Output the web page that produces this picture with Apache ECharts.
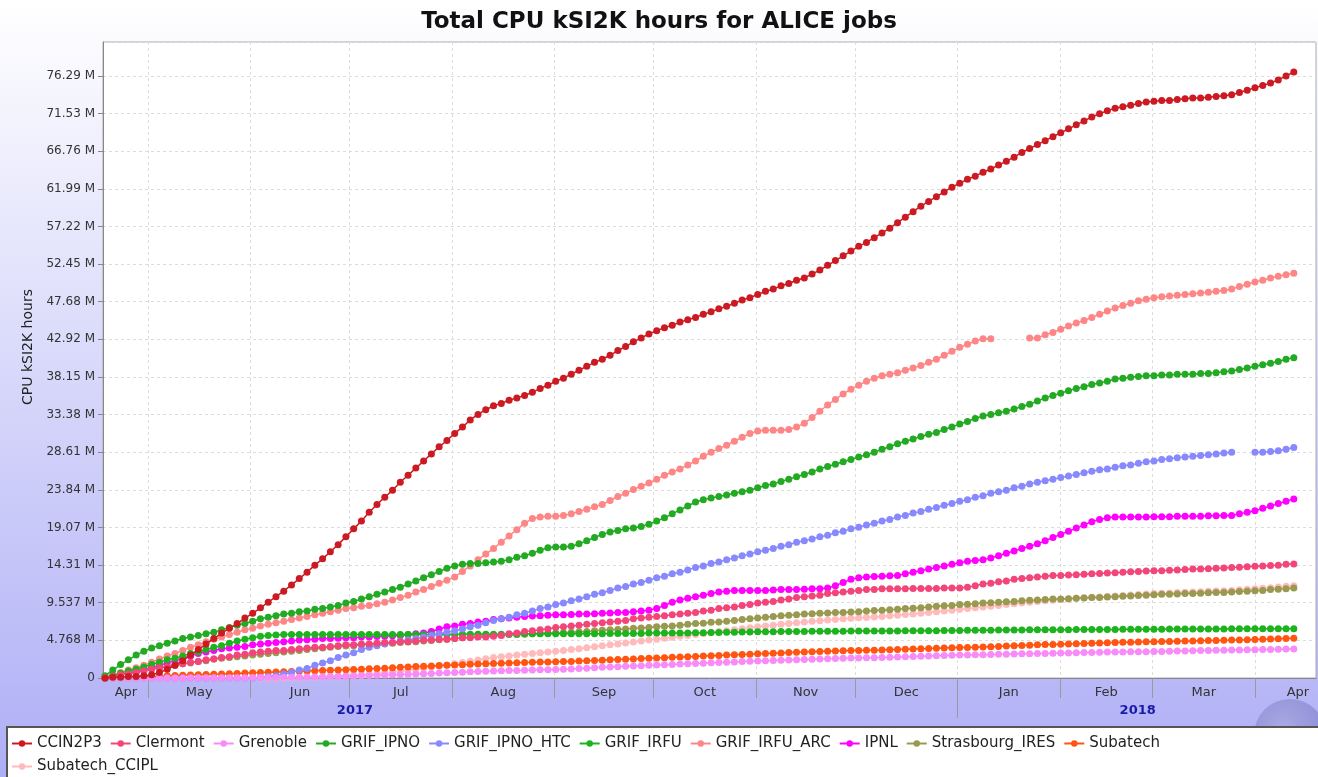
<!DOCTYPE html>
<html><head><meta charset="utf-8">
<script src="https://cdn.jsdelivr.net/npm/echarts@6/dist/echarts.min.js"></script>
<style>html,body{margin:0;padding:0;background:#fff}#c{width:1318px;height:777px}</style>
</head><body><div id="c"></div>
<script>
// ---- data (values in "M" units as labelled on the y axis) ----
const SERIES_NAMES = ['CCIN2P3','Clermont','Grenoble','GRIF_IPNO','GRIF_IPNO_HTC','GRIF_IRFU','GRIF_IRFU_ARC','IPNL','Strasbourg_IRES','Subatech','Subatech_CCIPL'];
const SERIES_COLORS = ['#cc1a22','#f2467a','#f78bf7','#22aa22','#8888ff','#1db31d','#ff8686','#ff00ff','#99994f','#ff5511','#ffbbbb'];

const CCIN2P3 = [0.0,0.1,0.1,0.2,0.2,0.3,0.4,0.7,1.1,1.6,2.2,2.9,3.6,4.3,5.0,5.7,6.3,6.9,7.6,8.2,
8.9,9.6,10.3,11.0,11.8,12.6,13.4,14.3,15.1,16.0,
16.9,17.9,18.9,19.9,21.0,22.0,22.9,23.8,24.8,25.7,
26.6,27.5,28.4,29.3,30.1,31.0,31.8,32.7,33.4,34.0,
34.5,34.8,35.2,35.5,35.8,36.2,36.7,37.1,37.6,38.0,
38.5,39.0,39.5,40.0,40.4,40.9,41.5,42.0,42.6,43.1,
43.6,44.0,44.4,44.7,45.1,45.4,45.7,46.1,46.4,46.8,
47.1,47.5,47.9,48.2,48.6,49.0,49.3,49.7,50.0,50.4,
50.7,51.2,51.7,52.3,52.9,53.5,54.1,54.7,55.2,55.8,
56.4,57.0,57.7,58.4,59.1,59.8,60.4,61.0,61.6,62.2,
62.7,63.2,63.6,64.1,64.5,65.0,65.5,66.0,66.6,67.1,
67.6,68.1,68.6,69.1,69.6,70.1,70.6,71.1,71.5,71.9,
72.2,72.4,72.6,72.8,73.0,73.1,73.2,73.2,73.3,73.4,
73.5,73.5,73.6,73.7,73.8,73.9,74.2,74.5,74.8,75.1,
75.4,75.8,76.3,76.8];

const CLERMONT = [0.0,0.2,0.4,0.5,0.7,0.9,1.1,1.3,1.4,1.6,1.8,2.0,2.1,2.3,2.4,2.6,2.7,2.9,3.0,3.2,
3.3,3.4,3.5,3.5,3.6,3.7,3.8,3.9,3.9,4.0,
4.1,4.2,4.2,4.3,4.3,4.4,4.5,4.5,4.6,4.6,
4.7,4.8,4.8,4.9,4.9,5.0,5.1,5.1,5.2,5.2,
5.3,5.4,5.6,5.7,5.9,6.0,6.1,6.2,6.4,6.5,
6.6,6.7,6.8,6.9,7.0,7.1,7.2,7.3,7.5,7.6,
7.7,7.8,7.9,8.0,8.1,8.2,8.3,8.5,8.6,8.8,
8.9,9.0,9.2,9.3,9.5,9.6,9.7,9.9,10.0,10.2,
10.3,10.4,10.5,10.7,10.8,10.9,11.0,11.1,11.2,11.2,
11.3,11.3,11.3,11.3,11.35,11.35,11.35,11.35,11.4,11.4,
11.4,11.5,11.7,11.9,12.0,12.2,12.3,12.5,12.6,12.7,
12.8,12.9,13.0,13.0,13.05,13.1,13.15,13.2,13.25,13.3,
13.35,13.4,13.45,13.5,13.55,13.6,13.6,13.65,13.7,13.75,
13.8,13.8,13.85,13.9,13.95,14.0,14.05,14.1,14.15,14.2,
14.25,14.3,14.4,14.45];

const GRENOBLE = [0,0,0,0,0,0,0,0,0.01,0.01,0.01,0.02,0.02,0.02,0.03,0.03,0.03,0.04,0.04,0.05,
0.05,0.06,0.07,0.08,0.09,0.1,0.12,0.14,0.16,0.18,
0.2,0.23,0.26,0.29,0.32,0.35,0.38,0.41,0.44,0.47,
0.5,0.54,0.58,0.62,0.66,0.7,0.74,0.78,0.82,0.86,
0.9,0.92,0.94,0.96,0.98,1.0,1.03,1.06,1.09,1.12,
1.15,1.2,1.25,1.3,1.35,1.4,1.44,1.48,1.52,1.56,
1.6,1.64,1.68,1.72,1.76,1.8,1.84,1.88,1.92,1.96,
2.0,2.04,2.08,2.12,2.16,2.2,2.23,2.26,2.29,2.32,
2.35,2.38,2.41,2.44,2.47,2.5,2.52,2.54,2.56,2.58,
2.6,2.63,2.66,2.69,2.72,2.75,2.78,2.81,2.84,2.87,
2.9,2.92,2.94,2.96,2.98,3.0,3.02,3.04,3.06,3.08,
3.1,3.12,3.14,3.16,3.18,3.2,3.22,3.24,3.26,3.28,
3.3,3.31,3.32,3.33,3.34,3.35,3.37,3.39,3.41,3.43,
3.45,3.47,3.49,3.51,3.53,3.55,3.56,3.58,3.59,3.61,
3.62,3.64,3.66,3.68];

const GRIF_IPNO = [0.3,1.0,1.7,2.3,2.9,3.4,3.8,4.1,4.4,4.7,5.0,5.2,5.4,5.6,5.8,6.1,6.4,6.7,6.9,7.2,
7.5,7.7,7.9,8.1,8.2,8.4,8.5,8.7,8.8,9.0,
9.2,9.5,9.7,10.0,10.3,10.6,10.9,11.2,11.5,11.9,
12.3,12.7,13.1,13.5,13.9,14.2,14.4,14.5,14.5,14.6,
14.7,14.8,15.0,15.3,15.5,15.8,16.2,16.5,16.6,16.6,
16.7,17.0,17.4,17.8,18.2,18.5,18.7,18.9,19.0,19.2,
19.5,19.9,20.3,20.8,21.3,21.8,22.3,22.6,22.8,23.0,
23.2,23.4,23.6,23.8,24.1,24.4,24.6,24.9,25.2,25.5,
25.8,26.1,26.5,26.8,27.1,27.4,27.7,28.0,28.3,28.6,
29.0,29.3,29.7,30.0,30.3,30.6,30.9,31.1,31.5,31.8,
32.2,32.5,32.9,33.2,33.4,33.6,33.8,34.1,34.4,34.7,
35.1,35.5,35.8,36.1,36.4,36.7,36.9,37.2,37.4,37.6,
37.9,38.0,38.1,38.2,38.3,38.3,38.4,38.4,38.5,38.5,
38.5,38.6,38.6,38.7,38.8,38.9,39.1,39.3,39.5,39.7,
39.9,40.1,40.4,40.6];

const GRIF_IPNO_HTC = [0,0,0,0,0,0,0,0,0,0,0,0,0,0,0,0,0,0,0,0,
0.1,0.2,0.3,0.5,0.7,1.0,1.2,1.6,1.9,2.2,
2.6,2.9,3.2,3.6,3.9,4.1,4.3,4.5,4.7,4.8,
5.0,5.2,5.4,5.6,5.8,6.0,6.2,6.5,6.7,7.0,
7.3,7.5,7.7,8.0,8.2,8.5,8.8,9.0,9.3,9.5,
9.8,10.0,10.3,10.6,10.8,11.1,11.4,11.6,11.9,12.1,
12.4,12.7,12.9,13.2,13.4,13.7,14.0,14.2,14.5,14.7,
15.0,15.2,15.5,15.7,16.0,16.2,16.4,16.7,16.9,17.2,
17.4,17.6,17.9,18.1,18.4,18.6,18.9,19.1,19.4,19.6,
19.9,20.1,20.4,20.6,20.9,21.1,21.4,21.6,21.9,22.1,
22.4,22.6,22.9,23.1,23.4,23.6,23.8,24.1,24.3,24.6,
24.8,25.0,25.2,25.4,25.6,25.8,26.0,26.2,26.4,26.5,
26.7,26.9,27.0,27.2,27.4,27.5,27.7,27.8,27.9,28.0,
28.1,28.2,28.3,28.4,28.5,28.6,null,null,28.6,28.6,
28.7,28.8,29.0,29.2];

const GRIF_IRFU = [0.0,0.3,0.6,0.9,1.1,1.4,1.7,2.0,2.3,2.5,2.8,3.1,3.3,3.6,3.9,4.1,4.4,4.7,4.9,5.1,
5.3,5.4,5.45,5.5,5.5,5.5,5.5,5.5,5.5,5.5,
5.5,5.5,5.5,5.5,5.5,5.5,5.5,5.5,5.5,5.5,
5.5,5.5,5.5,5.5,5.5,5.5,5.55,5.55,5.55,5.55,
5.55,5.55,5.55,5.55,5.6,5.6,5.6,5.6,5.6,5.6,
5.6,5.6,5.6,5.6,5.6,5.65,5.65,5.65,5.65,5.65,
5.7,5.7,5.7,5.7,5.7,5.7,5.72,5.74,5.76,5.78,
5.8,5.8,5.82,5.84,5.85,5.86,5.87,5.88,5.89,5.9,
5.9,5.91,5.92,5.93,5.94,5.94,5.95,5.95,5.96,5.96,
5.96,5.97,5.97,5.98,5.98,5.99,6.0,6.0,6.01,6.02,
6.03,6.04,6.05,6.06,6.06,6.07,6.08,6.08,6.09,6.1,
6.1,6.11,6.12,6.12,6.13,6.14,6.14,6.15,6.15,6.16,
6.16,6.17,6.17,6.18,6.18,6.19,6.19,6.2,6.2,6.2,
6.21,6.21,6.22,6.22,6.22,6.23,6.23,6.24,6.24,6.24,
6.25,6.25,6.25,6.25];

const GRIF_IRFU_ARC = [0.1,0.4,0.7,1.0,1.3,1.6,2.0,2.4,2.8,3.1,3.5,3.9,4.2,4.6,4.9,5.2,5.5,5.8,6.1,6.3,
6.6,6.8,7.0,7.2,7.4,7.6,7.8,8.0,8.2,8.4,
8.6,8.8,8.9,9.1,9.2,9.4,9.6,9.9,10.2,10.5,
10.9,11.2,11.6,12.0,12.4,12.8,13.5,14.2,15.0,15.7,
16.4,17.2,18.0,18.8,19.6,20.2,20.4,20.5,20.5,20.6,
20.8,21.1,21.4,21.7,22.0,22.5,23.0,23.4,23.9,24.3,
24.7,25.2,25.7,26.1,26.5,27.0,27.5,28.1,28.6,29.1,
29.5,30.0,30.5,31.0,31.3,31.4,31.4,31.4,31.5,31.8,
32.3,33.0,33.8,34.6,35.3,36.0,36.6,37.1,37.6,38.0,
38.3,38.5,38.7,39.0,39.3,39.6,40.0,40.4,40.9,41.4,
41.9,42.3,42.7,43.0,43.0,null,null,null,null,43.1,
43.1,43.5,43.8,44.2,44.6,45.0,45.3,45.7,46.1,46.5,
46.9,47.2,47.5,47.8,48.0,48.2,48.3,48.4,48.5,48.6,
48.7,48.8,48.9,49.0,49.1,49.3,49.6,49.9,50.2,50.4,
50.7,50.9,51.1,51.3];

const IPNL = [0.0,0.2,0.4,0.6,0.8,1.0,1.3,1.6,1.9,2.2,2.5,2.8,3.1,3.3,3.5,3.7,3.8,3.9,4.0,4.2,
4.3,4.4,4.5,4.6,4.7,4.8,4.85,4.9,5.0,5.0,
5.05,5.1,5.1,5.2,5.2,5.25,5.3,5.35,5.4,5.5,
5.6,5.7,5.9,6.2,6.5,6.6,6.8,6.9,7.1,7.2,
7.4,7.5,7.6,7.7,7.8,7.85,7.9,7.95,8.0,8.0,
8.05,8.1,8.1,8.15,8.2,8.25,8.3,8.3,8.4,8.5,
8.6,8.8,9.2,9.6,9.9,10.1,10.3,10.5,10.7,10.9,
11.0,11.1,11.1,11.1,11.1,11.1,11.15,11.2,11.2,11.2,
11.25,11.3,11.3,11.4,11.7,12.1,12.5,12.7,12.8,12.85,
12.9,12.95,13.0,13.2,13.4,13.6,13.8,14.0,14.2,14.4,
14.6,14.8,14.9,15.0,15.2,15.5,15.8,16.1,16.4,16.7,
17.0,17.4,17.8,18.2,18.6,19.0,19.4,19.8,20.1,20.3,
20.4,20.4,20.4,20.4,20.4,20.45,20.45,20.45,20.5,20.5,
20.5,20.5,20.55,20.55,20.6,20.6,20.8,21.0,21.2,21.5,
21.8,22.1,22.4,22.7];

const STRASBOURG_IRES = [0.0,0.2,0.4,0.6,0.8,1.0,1.2,1.3,1.5,1.6,1.8,1.9,2.1,2.2,2.4,2.5,2.6,2.7,2.8,2.9,
3.0,3.1,3.2,3.3,3.4,3.5,3.6,3.7,3.8,3.9,
4.0,4.05,4.1,4.2,4.25,4.3,4.35,4.4,4.5,4.55,
4.6,4.7,4.75,4.85,4.9,5.0,5.1,5.2,5.25,5.3,
5.4,5.45,5.5,5.5,5.55,5.6,5.65,5.7,5.7,5.75,
5.8,5.85,5.9,6.0,6.05,6.1,6.15,6.2,6.3,6.35,
6.4,6.5,6.55,6.6,6.7,6.8,6.9,6.95,7.05,7.1,
7.2,7.3,7.4,7.5,7.6,7.7,7.8,7.9,7.95,8.0,
8.1,8.15,8.2,8.25,8.3,8.3,8.35,8.4,8.5,8.55,
8.6,8.65,8.7,8.8,8.85,8.9,9.0,9.1,9.15,9.2,
9.3,9.35,9.4,9.5,9.55,9.6,9.65,9.7,9.8,9.85,
9.9,9.95,10.0,10.0,10.05,10.1,10.15,10.2,10.2,10.25,
10.3,10.35,10.4,10.45,10.5,10.55,10.6,10.6,10.65,10.7,
10.7,10.75,10.8,10.85,10.85,10.9,10.95,11.0,11.05,11.1,
11.2,11.25,11.3,11.4];

const SUBATECH = [0,0.03,0.06,0.09,0.12,0.15,0.19,0.23,0.27,0.31,0.35,0.38,0.41,0.44,0.47,0.5,0.54,0.58,0.62,0.66,
0.7,0.73,0.76,0.79,0.82,0.85,0.88,0.91,0.94,0.97,
1.0,1.04,1.08,1.12,1.16,1.2,1.25,1.3,1.35,1.4,
1.45,1.49,1.53,1.57,1.61,1.65,1.69,1.73,1.77,1.81,
1.85,1.88,1.91,1.94,1.97,2.0,2.02,2.04,2.06,2.08,
2.1,2.14,2.18,2.22,2.26,2.3,2.34,2.38,2.42,2.46,
2.5,2.54,2.58,2.62,2.66,2.7,2.74,2.78,2.82,2.86,
2.9,2.94,2.98,3.02,3.06,3.1,3.14,3.18,3.22,3.26,
3.3,3.33,3.36,3.39,3.42,3.45,3.47,3.49,3.51,3.53,
3.55,3.58,3.61,3.64,3.67,3.7,3.73,3.76,3.79,3.82,
3.85,3.88,3.91,3.94,3.97,4.0,4.04,4.08,4.12,4.16,
4.2,4.23,4.26,4.29,4.32,4.35,4.38,4.41,4.44,4.47,
4.5,4.52,4.54,4.56,4.58,4.6,4.62,4.64,4.66,4.68,
4.7,4.72,4.74,4.76,4.78,4.8,4.83,4.86,4.89,4.92,
4.95,4.98,5.02,5.05];

const SUBATECH_CCIPL = [0,0,0,0,0,0,0,0,0,0,0,0,0,0,0,0,0,0,0,0,
0,0,0,0.01,0.03,0.05,0.08,0.11,0.15,0.2,
0.25,0.3,0.36,0.42,0.48,0.55,0.65,0.76,0.87,0.98,
1.1,1.24,1.38,1.52,1.66,1.8,1.96,2.12,2.28,2.44,
2.6,2.7,2.8,2.9,3.0,3.1,3.2,3.3,3.4,3.5,
3.6,3.72,3.84,3.96,4.08,4.2,4.32,4.44,4.56,4.68,
4.8,4.92,5.04,5.16,5.28,5.4,5.52,5.64,5.76,5.88,
6.0,6.12,6.24,6.36,6.48,6.6,6.7,6.8,6.9,7.0,
7.1,7.18,7.26,7.34,7.42,7.5,7.56,7.62,7.68,7.74,
7.8,7.88,7.96,8.04,8.12,8.2,8.3,8.4,8.5,8.6,
8.7,8.8,8.9,9.0,9.1,9.2,9.3,9.4,9.5,9.6,
9.7,9.78,9.86,9.94,10.02,10.1,10.16,10.22,10.28,10.34,
10.4,10.46,10.52,10.58,10.64,10.7,10.74,10.78,10.82,10.86,
10.9,10.94,10.98,11.02,11.06,11.1,11.17,11.24,11.31,11.38,
11.45,11.53,11.62,11.7];

const SERIES_VALUES = [CCIN2P3, CLERMONT, GRENOBLE, GRIF_IPNO, GRIF_IPNO_HTC, GRIF_IRFU, GRIF_IRFU_ARC, IPNL, STRASBOURG_IRES, SUBATECH, SUBATECH_CCIPL];

// time bins
const DAY = 86400000;
const FIRST_BIN = Date.UTC(2017, 3, 18, 0);
const BIN_DAYS = 2.3513;
// axis
const X_MIN = Date.UTC(2017, 3, 17, 9, 10);
const X_MAX = Date.UTC(2018, 3, 19, 11, 5);
const MONTH_TICKS = [Date.UTC(2017,4,1),Date.UTC(2017,5,1),Date.UTC(2017,6,1),Date.UTC(2017,7,1),Date.UTC(2017,8,1),Date.UTC(2017,9,1),Date.UTC(2017,10,1),Date.UTC(2017,11,1),Date.UTC(2018,0,1),Date.UTC(2018,1,1),Date.UTC(2018,2,1),Date.UTC(2018,3,1)];
const MONTH_LABEL_AT = [Date.UTC(2017,3,24,8),Date.UTC(2017,4,16,12),Date.UTC(2017,5,16),Date.UTC(2017,6,16,12),Date.UTC(2017,7,16,12),Date.UTC(2017,8,16),Date.UTC(2017,9,16,12),Date.UTC(2017,10,16),Date.UTC(2017,11,16,12),Date.UTC(2018,0,16,12),Date.UTC(2018,1,15),Date.UTC(2018,2,16,12),Date.UTC(2018,3,14)];
const MONTH_NAMES = ['Jan','Feb','Mar','Apr','May','Jun','Jul','Aug','Sep','Oct','Nov','Dec'];
const YEAR_SEPARATORS = [Date.UTC(2018,0,1)];
const YEAR_LABEL_AT = [Date.UTC(2017,6,2,15), Date.UTC(2018,1,24,12)];
const Y_STEP = 4.76837158203125;
const Y_MAX = 80.6;

const FONT = 'DejaVu Sans';
const chart = echarts.init(document.getElementById('c'), null, {renderer: 'canvas'});

const series = SERIES_NAMES.map((name, k) => ({
  name, type: 'line', xAxisIndex: 0, yAxisIndex: 0,
  data: SERIES_VALUES[k].map((v, i) => [FIRST_BIN + i * BIN_DAYS * DAY, v]),
  symbol: 'circle', symbolSize: 7, showSymbol: true,
  lineStyle: {width: 1.5, color: SERIES_COLORS[k]},
  itemStyle: {color: SERIES_COLORS[k]},
  connectNulls: false,
  z: 3 + (SERIES_NAMES.length - k),
  emphasis: {disabled: true},
  animation: false
}));

chart.setOption({
  animation: false,
  backgroundColor: {type: 'linear', x: 0, y: 0, x2: 0, y2: 1,
    colorStops: [{offset: 0, color: '#ffffff'}, {offset: 1, color: '#aeaef6'}]},
  textStyle: {fontFamily: FONT},
  title: {text: 'Total CPU kSI2K hours for ALICE jobs', left: 'center', top: 6,
    textStyle: {fontFamily: FONT, fontSize: 23, fontWeight: 'bold', color: '#111'}},
  graphic: [
    {type: 'circle', shape: {cx: 1290, cy: 735, r: 36}, silent: true, z: -1,
      style: {fill: {type: 'radial', x: 0.4, y: 0.4, r: 0.7, colorStops: [{offset: 0, color: 'rgba(170,170,225,0.9)'}, {offset: 1, color: 'rgba(120,120,200,0.6)'}]}}},
    {type: 'rect', shape: {x: 7, y: 727, width: 1320, height: 60}, silent: true, z: 0,
      style: {fill: '#ffffff', stroke: '#555', lineWidth: 2}}
  ],
  grid: {left: 103, right: 2, top: 42, bottom: 99, show: true, backgroundColor: '#ffffff', borderColor: '#aaa', borderWidth: 1},
  legend: {left: 6, top: 731, width: 1270, itemWidth: 20, itemHeight: 8, itemGap: 8,
    data: SERIES_NAMES,
    textStyle: {fontFamily: FONT, fontSize: 15, color: '#222'}},
  xAxis: [
    {type: 'value', min: X_MIN, max: X_MAX, position: 'bottom',
      axisLine: {show: true, lineStyle: {color: '#888'}},
      axisTick: {show: true, customValues: MONTH_TICKS, length: 20, lineStyle: {color: '#999'}},
      axisLabel: {customValues: MONTH_LABEL_AT, formatter: v => MONTH_NAMES[new Date(v).getUTCMonth()],
        fontFamily: FONT, fontSize: 13, color: '#333', margin: 8, hideOverlap: false},
      splitLine: {show: true, lineStyle: {type: [3, 3], color: '#ddd'}}},
    {type: 'value', min: X_MIN, max: X_MAX, position: 'bottom', gridIndex: 0,
      axisLine: {show: false},
      axisTick: {show: true, customValues: YEAR_SEPARATORS, length: 40, lineStyle: {color: '#999'}},
      axisLabel: {customValues: YEAR_LABEL_AT, formatter: v => String(new Date(v).getUTCFullYear()),
        fontFamily: FONT, fontSize: 13, fontWeight: 'bold', color: '#1a1aa8', margin: 26, hideOverlap: false},
      splitLine: {show: false}}
  ],
  yAxis: {type: 'value', min: 0, max: Y_MAX, interval: Y_STEP,
    name: 'CPU kSI2K hours', nameLocation: 'middle', nameGap: 66,
    nameTextStyle: {fontFamily: FONT, fontSize: 14, color: '#222', padding: [0, 0, 0, 26]},
    axisLine: {show: true, lineStyle: {color: '#888'}},
    axisTick: {show: true, length: 5, lineStyle: {color: '#888'}},
    axisLabel: {fontFamily: FONT, fontSize: 12, color: '#333', margin: 8, showMaxLabel: false,
      formatter: v => v === 0 ? '0' : Number(v).toPrecision(4) + ' M'},
    splitLine: {show: true, lineStyle: {type: [3, 3], color: '#ddd'}}},
  series: series
});
</script></body></html>
